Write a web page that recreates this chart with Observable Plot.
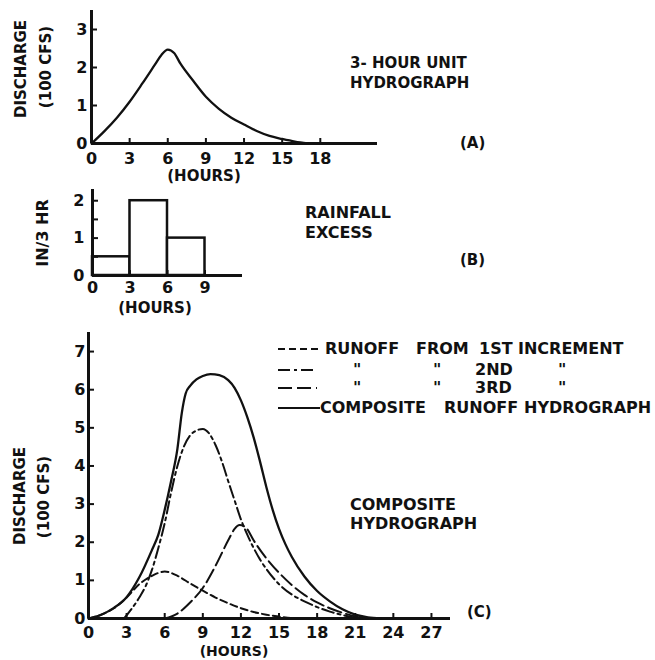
<!DOCTYPE html>
<html><head><meta charset="utf-8">
<script src="https://cdn.jsdelivr.net/npm/d3@7"></script>
<script src="https://cdn.jsdelivr.net/npm/@observablehq/plot@0.6"></script>
<style>
body{margin:0;background:#fff;}
#wrap{position:relative;width:655px;height:660px;background:#fff;overflow:hidden;font-family:"DejaVu Sans",sans-serif;font-weight:bold;color:#111;}
.pl{position:absolute;left:0;}
.t{position:absolute;white-space:nowrap;line-height:1;}
.r{position:absolute;white-space:nowrap;line-height:1;transform:translate(-50%,-50%) rotate(-90deg);}
</style></head><body><div id="wrap"></div>
<script>
// ---------- DATA ----------
// (A) 3-hour unit hydrograph, discharge in 100 cfs
const unitHours     = [0, 1, 2, 3, 4, 5, 5.5, 6, 6.5, 7, 8, 9, 10, 11, 12, 13, 14, 15, 16, 17];
const unitDischarge = [0, 0.32, 0.68, 1.1, 1.58, 2.08, 2.33, 2.47, 2.38, 2.1, 1.65, 1.23, 0.92, 0.68, 0.5, 0.33, 0.2, 0.12, 0.05, 0];
// (B) rainfall excess, in per 3 hr
const rainStart  = [0, 3, 6];
const rainEnd    = [3, 6, 9];
const rainExcess = [0.5, 2, 1];
// (C) runoff from each increment and composite
const inc1Hours = [0, 1, 2, 3, 4, 5, 6, 7, 8, 9, 10, 11, 12, 13, 14, 15, 16, 16.5];
const inc1Q     = [0, 0.1, 0.27, 0.55, 0.9, 1.12, 1.23, 1.12, 0.92, 0.73, 0.55, 0.4, 0.27, 0.17, 0.1, 0.05, 0.01, 0];
const inc2Hours = [2.8, 3.5, 4, 4.5, 5, 5.5, 6, 6.5, 7, 7.5, 8, 8.5, 9, 9.5, 10, 10.5, 11, 11.5, 12, 12.5, 13, 13.5, 14, 15, 16, 17, 18, 19, 20, 21, 21.5];
const inc2Q     = [0, 0.3, 0.55, 0.85, 1.28, 1.85, 2.5, 3.3, 4.0, 4.5, 4.8, 4.93, 4.97, 4.85, 4.55, 4.12, 3.6, 3.1, 2.6, 2.2, 1.85, 1.55, 1.3, 0.9, 0.63, 0.45, 0.3, 0.18, 0.09, 0.02, 0];
const inc3Hours = [6, 7, 8, 9, 10, 11, 11.5, 11.9, 12.4, 13, 14, 15, 16, 17, 18, 19, 20, 21, 22];
const inc3Q     = [0, 0.13, 0.42, 0.8, 1.38, 2.05, 2.35, 2.45, 2.38, 2.05, 1.58, 1.2, 0.88, 0.62, 0.42, 0.27, 0.15, 0.05, 0];
const compHours = [0, 1, 2, 3, 4, 5, 5.5, 6, 6.5, 7, 7.35, 7.65, 8, 8.5, 9, 9.6, 10.3, 11, 11.5, 12, 12.5, 13, 13.5, 14, 14.5, 15, 15.5, 16, 17, 18, 19, 20, 21, 22, 23];
const compQ     = [0, 0.1, 0.28, 0.56, 1.08, 1.8, 2.2, 2.85, 3.6, 4.45, 5.4, 5.9, 6.1, 6.27, 6.36, 6.41, 6.38, 6.25, 6.05, 5.72, 5.28, 4.75, 4.12, 3.45, 2.85, 2.35, 1.95, 1.62, 1.1, 0.72, 0.45, 0.24, 0.1, 0.03, 0];
// ticks
const ticksAx = [0, 3, 6, 9, 12, 15, 18];
const ticksAy = [0, 1, 2, 3];
const ticksBx = [0, 3, 6, 9];
const ticksBy = [0, 1, 2];
const minorBy = [0.5, 1, 1.5, 2];
const ticksCx = [0, 3, 6, 9, 12, 15, 18, 21, 24, 27];
const ticksCy = [0, 1, 2, 3, 4, 5, 6, 7];
// series labels
const legendRows = [
  {dash: "7,4", words: [["RUNOFF", 325], ["FROM", 416], ["1ST", 479], ["INCREMENT", 518]]},
  {dash: "12,4,3,4", words: [["\u0022", 353], ["\u0022", 433], ["2ND", 475], ["\u0022", 558]]},
  {dash: "14,5", words: [["\u0022", 353], ["\u0022", 433], ["3RD", 475], ["\u0022", 558]]},
  {dash: null, words: [["COMPOSITE", 320], ["RUNOFF", 444], ["HYDROGRAPH", 524]]}
];

const INK = "#111";
const wrap = document.getElementById("wrap");
const zip = (xs, ys) => xs.map((x, i) => ({x, y: ys[i]}));
const baseStyle = {fontFamily: "DejaVu Sans, sans-serif", fontWeight: "bold", fontSize: "16px", color: INK, background: "transparent", overflow: "visible"};

function axesMarks(xt, yt, yMinor, pads) {
  return [
    Plot.axisX(xt, {tickSize: 0, tickPadding: pads.x, label: null, fontSize: 16}),
    Plot.axisY(yt, {tickSize: 0, tickPadding: pads.y, label: null, fontSize: 16}),
    Plot.ruleX(xt.filter(v => v > 0), {y1: 0, y2: 0, insetTop: -5, stroke: INK, strokeWidth: 2}),
    Plot.ruleY(yMinor.filter(v => v > 0), {x1: 0, x2: 0, insetRight: -6, stroke: INK, strokeWidth: 2}),
    Plot.ruleX([0], {stroke: INK, strokeWidth: 3}),
    Plot.ruleY([0], {stroke: INK, strokeWidth: 3})
  ];
}

function place(el, top) { el.classList.add("pl"); el.style.top = top + "px"; wrap.appendChild(el); }

// Panel A
const chartA = Plot.plot({
  width: 655, height: 185, marginLeft: 91, marginRight: 278, marginTop: 10, marginBottom: 42,
  x: {domain: [0, 22.5], label: null}, y: {domain: [0, 3.5], label: null},
  style: baseStyle,
  marks: [
    ...axesMarks(ticksAx, ticksAy, ticksAy, {x: 9, y: 4}),
    Plot.line(zip(unitHours, unitDischarge), {x: "x", y: "y", curve: "monotone-x", stroke: INK, strokeWidth: 2.3})
  ]
});
place(chartA, 0);

// Panel B
const rainData = rainStart.map((s, i) => ({x1: s, x2: rainEnd[i], y: rainExcess[i]}));
const chartB = Plot.plot({
  width: 655, height: 140, marginLeft: 92, marginRight: 413, marginTop: 9, marginBottom: 45,
  x: {domain: [0, 12], label: null}, y: {domain: [0, 2.3], label: null},
  style: baseStyle,
  marks: [
    Plot.rectY(rainData, {x1: "x1", x2: "x2", y: "y", fill: "white", stroke: INK, strokeWidth: 2.5}),
    ...axesMarks(ticksBx, ticksBy, minorBy, {x: 6, y: 8})
  ]
});
place(chartB, 180);

// Panel C
const chartC = Plot.plot({
  width: 655, height: 340, marginLeft: 88, marginRight: 205, marginTop: 12, marginBottom: 42,
  x: {domain: [0, 28.5], label: null}, y: {domain: [0, 7.5], label: null},
  style: baseStyle,
  marks: [
    ...axesMarks(ticksCx, ticksCy, ticksCy, {x: 8, y: 3}),
    Plot.line(zip(inc1Hours, inc1Q), {x: "x", y: "y", curve: "monotone-x", stroke: INK, strokeWidth: 2, strokeDasharray: legendRows[0].dash}),
    Plot.line(zip(inc2Hours, inc2Q), {x: "x", y: "y", curve: "monotone-x", stroke: INK, strokeWidth: 2, strokeDasharray: legendRows[1].dash}),
    Plot.line(zip(inc3Hours, inc3Q), {x: "x", y: "y", curve: "monotone-x", stroke: INK, strokeWidth: 2, strokeDasharray: legendRows[2].dash}),
    Plot.line(zip(compHours, compQ), {x: "x", y: "y", curve: "monotone-x", stroke: INK, strokeWidth: 2.3})
  ]
});
place(chartC, 320);

// ---------- TEXT ----------
function txt(s, x, cy, fs, center) {
  const d = document.createElement("div");
  d.className = "t"; d.textContent = s;
  d.style.fontSize = fs + "px";
  d.style.left = x + "px"; d.style.top = (cy - 0.48 * fs) + "px";
  if (center) d.style.transform = "translateX(-50%)";
  wrap.appendChild(d);
}
function rot(s, cx, cy, fs) {
  const d = document.createElement("div");
  d.className = "r"; d.textContent = s;
  d.style.fontSize = fs + "px";
  d.style.left = cx + "px"; d.style.top = cy + "px";
  wrap.appendChild(d);
}
// axis titles
rot("DISCHARGE", 21, 69, 15);
rot("(100 CFS)", 46, 67, 15);
txt("(HOURS)", 204, 176, 15, true);
rot("IN/3 HR", 43, 233, 16);
txt("(HOURS)", 155, 308, 15, true);
rot("DISCHARGE", 20, 496, 15);
rot("(100 CFS)", 44, 497, 15);
txt("(HOURS)", 234, 651, 14, true);
// annotations
txt("3- HOUR  UNIT", 350, 63, 15);
txt("HYDROGRAPH", 350, 83, 15);
txt("(A)", 460, 143, 15);
txt("RAINFALL", 305, 213, 16);
txt("EXCESS", 305, 233, 16);
txt("(B)", 460, 260, 15);
txt("COMPOSITE", 350, 505, 16);
txt("HYDROGRAPH", 350, 524, 16);
txt("(C)", 467, 612, 15);

// legend
const rowY = [349, 370, 388, 408];
const rowEnd = [322, 317, 317, 320];
const ns = "http://www.w3.org/2000/svg";
const lg = document.createElementNS(ns, "svg");
lg.setAttribute("width", 655); lg.setAttribute("height", 660);
lg.style.position = "absolute"; lg.style.left = "0"; lg.style.top = "0"; lg.style.pointerEvents = "none";
legendRows.forEach((row, i) => {
  const l = document.createElementNS(ns, "line");
  l.setAttribute("x1", 278); l.setAttribute("x2", rowEnd[i]);
  l.setAttribute("y1", rowY[i]); l.setAttribute("y2", rowY[i]);
  l.setAttribute("stroke", INK); l.setAttribute("stroke-width", 2.2);
  if (row.dash) l.setAttribute("stroke-dasharray", row.dash);
  lg.appendChild(l);
  row.words.forEach(([w, x]) => txt(w, x, rowY[i], 16));
});
wrap.appendChild(lg);
</script>
</body></html>
